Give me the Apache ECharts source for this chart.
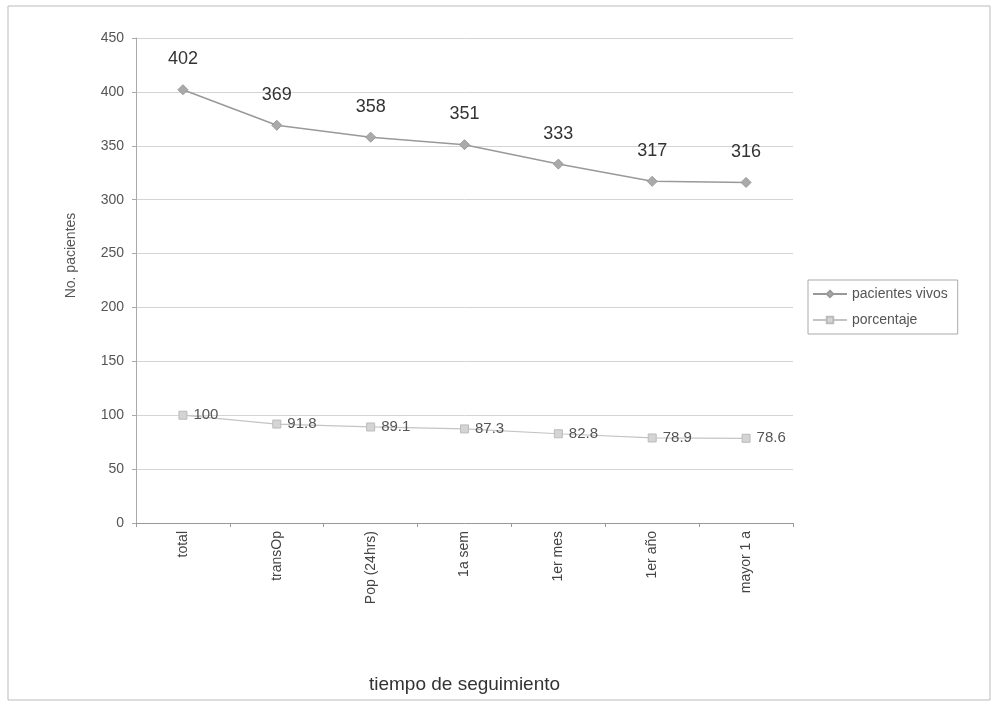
<!DOCTYPE html>
<html><head><meta charset="utf-8">
<script src="https://cdn.jsdelivr.net/npm/echarts@6/dist/echarts.min.js"></script>
<style>html,body{margin:0;padding:0;background:#fff}#c{width:999px;height:709px}</style>
</head><body><div id="c"></div>
<script>
const categories = ['total','transOp','Pop (24hrs)','1a sem','1er mes','1er año','mayor 1 a'];
const pacientesVivos = [402,369,358,351,333,317,316];
const porcentaje = [100,91.8,89.1,87.3,82.8,78.9,78.6];
const yTicks = {min:0,max:450,interval:50};

const chart = echarts.init(document.getElementById('c'));
chart.setOption({
  backgroundColor:'#fff',
  animation:false,
  graphic:[{type:'rect',shape:{x:8,y:6,width:982,height:694},style:{fill:'none',stroke:'#bbb',lineWidth:1},silent:true}],
  grid:{left:136,right:206,top:38,bottom:186},
  legend:{
    orient:'vertical',left:808,top:280,
    backgroundColor:'#fff',borderColor:'#aaa',borderWidth:1,borderRadius:0,
    padding:[7,10,7,4],itemGap:12,itemWidth:34,itemHeight:8,
    textStyle:{fontFamily:'Liberation Sans, Arial',fontSize:14,color:'#555'},
    data:['pacientes vivos','porcentaje']
  },
  xAxis:{
    type:'category',data:categories,boundaryGap:true,
    name:'tiempo de seguimiento',nameLocation:'middle',nameGap:152,
    nameTextStyle:{fontFamily:'Liberation Sans, Arial',fontSize:19,color:'#333'},
    axisLine:{lineStyle:{color:'#999'}},
    axisTick:{show:true,alignWithLabel:false,length:4,lineStyle:{color:'#999'}},
    axisLabel:{rotate:90,interval:0,margin:8,fontFamily:'Liberation Sans, Arial',fontSize:14,color:'#444'}
  },
  yAxis:{
    type:'value',min:yTicks.min,max:yTicks.max,interval:yTicks.interval,
    name:'No. pacientes',nameLocation:'middle',nameGap:58,
    nameTextStyle:{fontFamily:'Liberation Sans, Arial',fontSize:14,color:'#555',padding:[0,0,0,50]},
    axisLine:{show:true,lineStyle:{color:'#aaa'}},
    axisTick:{show:true,length:4,lineStyle:{color:'#aaa'}},
    axisLabel:{fontFamily:'Liberation Sans, Arial',fontSize:14,color:'#555',margin:12},
    splitLine:{lineStyle:{color:'#d4d4d4'}}
  },
  series:[
    {name:'pacientes vivos',type:'line',data:pacientesVivos,
     symbol:'diamond',symbolSize:10,
     lineStyle:{color:'#999',width:1.5},itemStyle:{color:'#aaa',borderColor:'#999',borderWidth:1},
     label:{show:true,position:'top',distance:16,fontFamily:'Liberation Sans, Arial',fontSize:18,color:'#333'}},
    {name:'porcentaje',type:'line',data:porcentaje,
     symbol:'rect',symbolSize:8,
     lineStyle:{color:'#c4c4c4',width:1.2},itemStyle:{color:'#d4d4d4',borderColor:'#bbb',borderWidth:1},
     label:{show:true,position:'right',distance:6,fontFamily:'Liberation Sans, Arial',fontSize:15,color:'#555'}}
  ]
});
</script></body></html>
